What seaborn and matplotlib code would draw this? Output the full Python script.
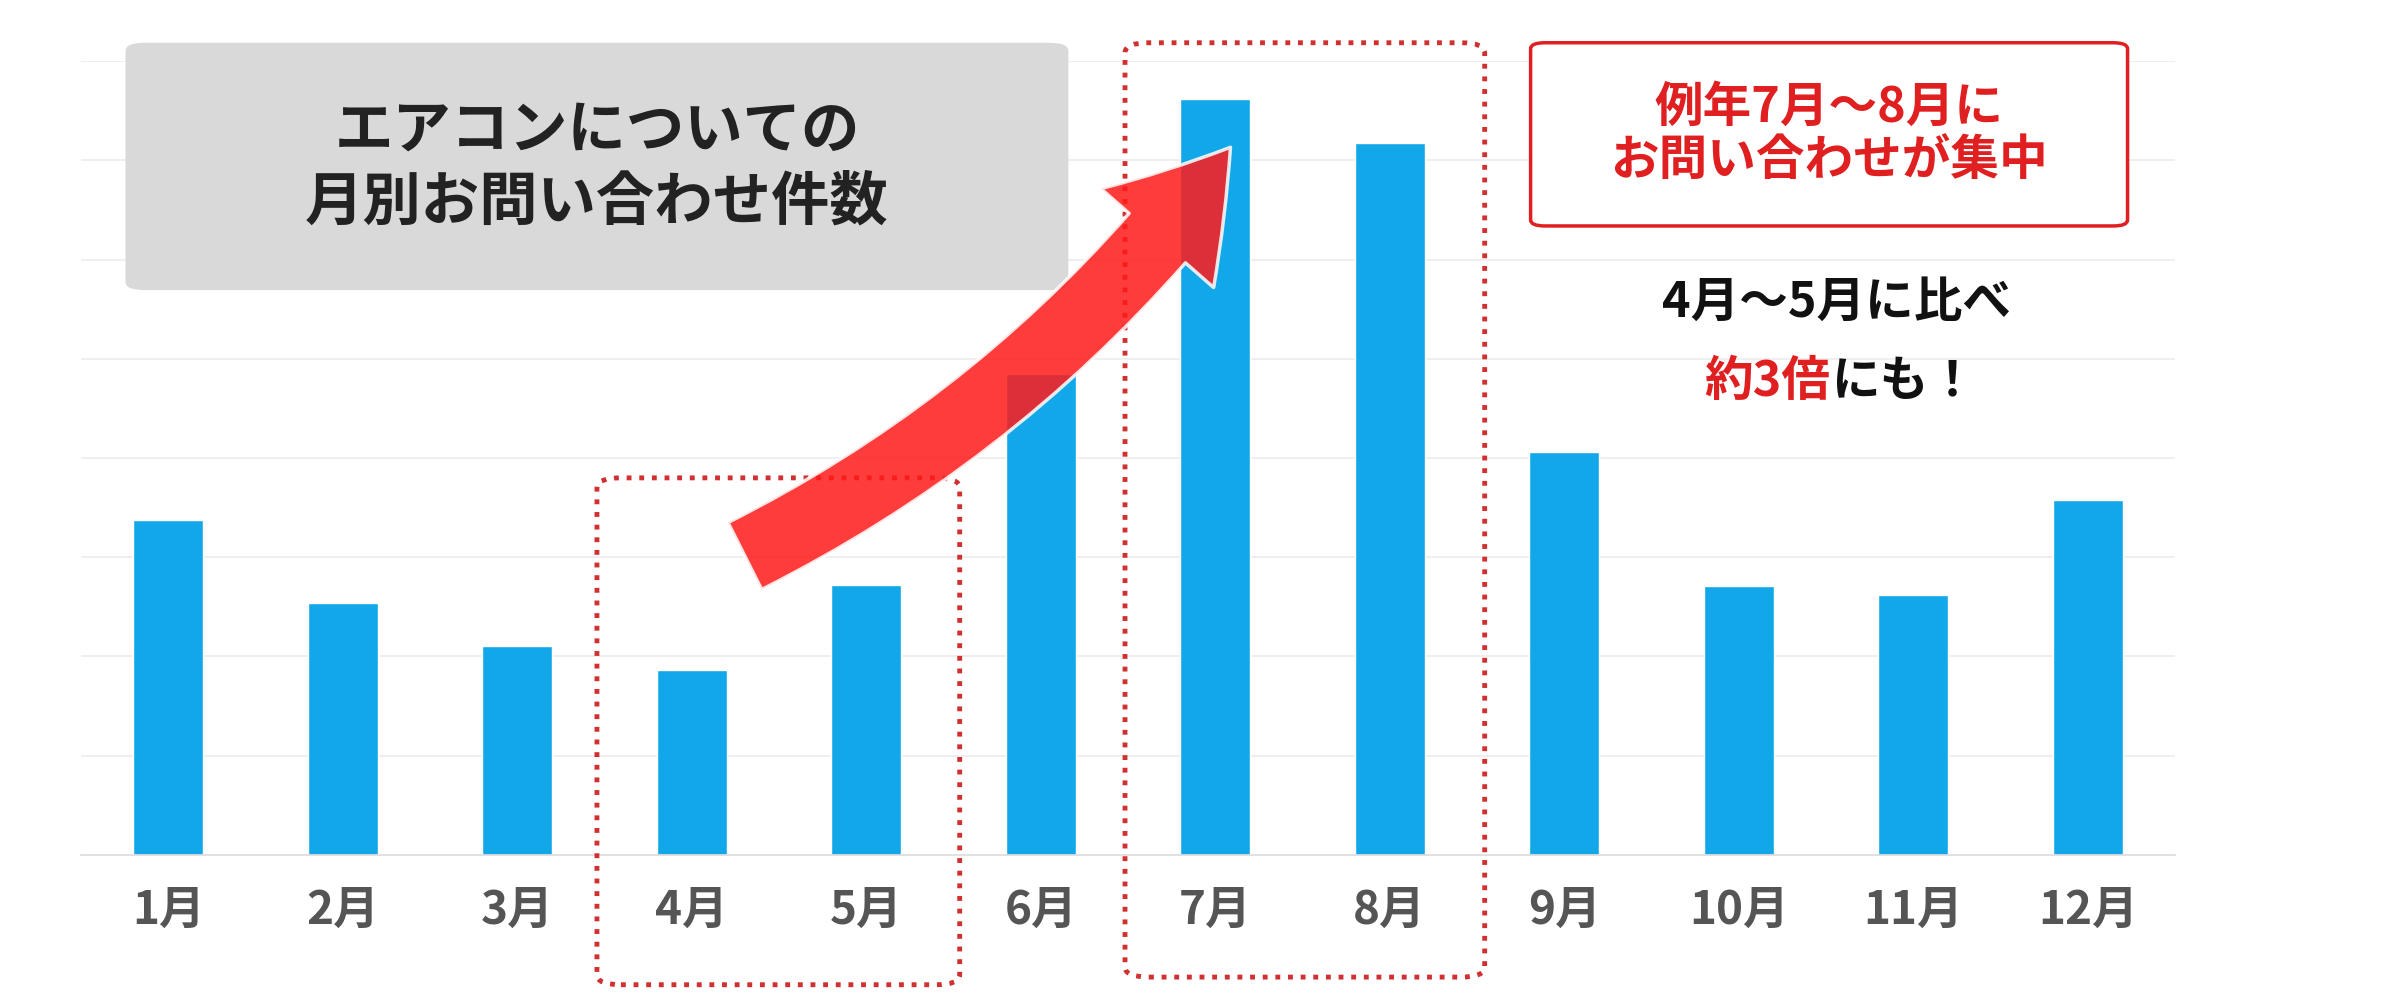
import matplotlib
matplotlib.use("Agg")
import matplotlib.pyplot as plt
import seaborn as sns
import pandas as pd
from matplotlib.patches import FancyBboxPatch, FancyArrowPatch

months = ["1月","2月","3月","4月","5月","6月","7月","8月","9月","10月","11月","12月"]
counts = [3.38, 2.54, 2.11, 1.86, 2.72, 4.85, 7.62, 7.17, 4.06, 2.71, 2.62, 3.58]

sns.set_theme(style="white")
plt.rcParams['font.family'] = ['Noto Sans CJK JP', 'DejaVu Sans']

W, H = 1568, 655
fig = plt.figure(figsize=(24, 10), dpi=100)
ax = fig.add_axes([53/W, 1-560/H, (1421-53)/W, 520/H])
df = pd.DataFrame({"m": months, "v": counts})
sns.barplot(data=df, x="m", y="v", color="#12a7e8", saturation=1, width=0.4, ax=ax)
ax.set_ylim(0, 8)
ax.set_yticks(range(1, 9))
ax.yaxis.grid(True, color="#ececec", lw=1.2)
ax.set_axisbelow(True)
ax.set_yticklabels([])
ax.tick_params(axis="y", length=0)
ax.set_xlabel(""); ax.set_ylabel("")
for s in ["top", "right", "left"]:
    ax.spines[s].set_visible(False)
ax.spines["bottom"].set_color("#dddddd")
ax.tick_params(axis="x", length=0, pad=24, labelsize=33, labelcolor="#555555")
for t in ax.get_xticklabels():
    t.set_fontweight("bold")

def fx(x): return x / W
def fy(y): return 1 - y / H

# gray title box
fig.patches.append(FancyBboxPatch((fx(82), fy(190)), fx(698-82), (190-28)/H,
    boxstyle="round,pad=0,rounding_size=0.008", transform=fig.transFigure,
    fc="#d9d9d9", ec="none"))
fig.text(fx(390), fy(109), "エアコンについての\n月別お問い合わせ件数", ha="center", va="center",
         fontsize=42, fontweight="bold", color="#222222", linespacing=1.25)

# dotted boxes
for (x0, y0, x1, y1) in [(390, 313, 627, 645), (735, 28, 970, 640)]:
    fig.patches.append(FancyBboxPatch((fx(x0), fy(y1)), fx(x1-x0), (y1-y0)/H,
        boxstyle="round,pad=0,rounding_size=0.01", transform=fig.transFigure,
        fc="none", ec="#d03030", lw=3.5, ls=(0, (1, 1.6))))

# arrow
arr = FancyArrowPatch((fx(485), fy(365)), (fx(805), fy(95)),
    transform=fig.transFigure, connectionstyle="arc3,rad=0.12",
    arrowstyle="simple,tail_width=4.5,head_width=9,head_length=7",
    mutation_scale=12, fc="#ff1a1a", ec="white", lw=2.5, alpha=0.85)
fig.patches.append(arr)

# callout
fig.patches.append(FancyBboxPatch((fx(1000), fy(148)), fx(390), 120/H,
    boxstyle="round,pad=0,rounding_size=0.006", transform=fig.transFigure,
    fc="white", ec="#e02020", lw=2.5))
fig.text(fx(1195), fy(88), "例年7月～8月に\nお問い合わせが集中", ha="center", va="center",
         fontsize=35, fontweight="bold", color="#e02020", linespacing=1.15)
fig.text(fx(1200), fy(198), "4月～5月に比べ", ha="center", va="center",
         fontsize=35, fontweight="bold", color="#111111")
fig.text(fx(1196), fy(250), "約3倍", ha="right", va="center",
         fontsize=35, fontweight="bold", color="#e02020")
fig.text(fx(1196), fy(250), "にも！", ha="left", va="center",
         fontsize=35, fontweight="bold", color="#111111")

fig.savefig("out.png", dpi=100, facecolor="white")
